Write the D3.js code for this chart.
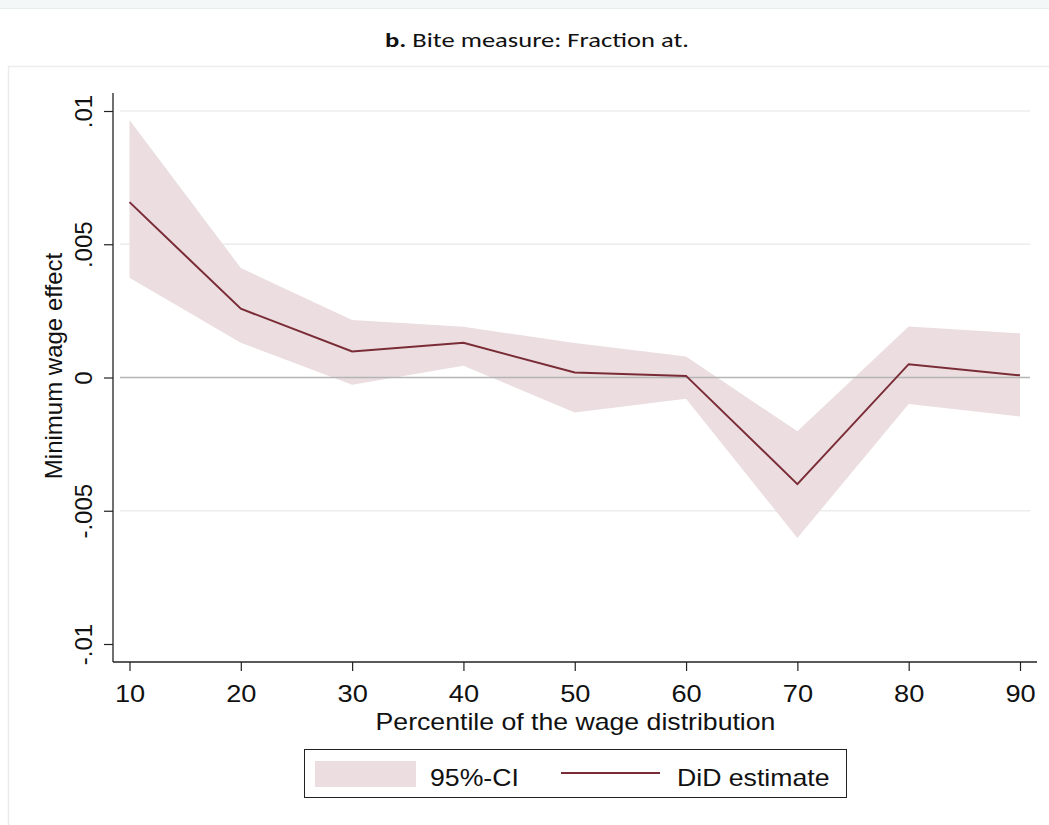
<!DOCTYPE html>
<html>
<head>
<meta charset="utf-8">
<script src="https://cdn.jsdelivr.net/npm/d3@7"></script>
<style>
  body { margin: 0; background: #ffffff; }
  svg { display: block; }
</style>
</head>
<body>
<svg id="chart" width="1049" height="825"></svg>
<script>
// Percentiles of the wage distribution and the DiD estimates with 95% bounds
const percentiles = [10, 20, 30, 40, 50, 60, 70, 80, 90];
const estimate    = [0.00658, 0.00258, 0.00098, 0.00130, 0.00019, 0.00006, -0.00400, 0.00050, 0.00008];
const ciUpper     = [0.00966, 0.00411, 0.00216, 0.00190, 0.00129, 0.00079, -0.00202, 0.00191, 0.00166];
const ciLower     = [0.00374, 0.00130, -0.00027, 0.00044, -0.00131, -0.00080, -0.00602, -0.00099, -0.00146];

const yTicks = [-0.01, -0.005, 0, 0.005, 0.01];
const yTickLabels = ["-.01", "-.005", "0", ".005", ".01"];
const gridValues = [0.01, 0.005, -0.005];
const xTickLabels = ["10", "20", "30", "40", "50", "60", "70", "80", "90"];

const titleBold = "b.";
const titleRest = " Bite measure: Fraction at.";
const yTitle = "Minimum wage effect";
const xTitle = "Percentile of the wage distribution";
const legendLabels = ["95%-CI", "DiD estimate"];

const bandColor = "#ebdde0";
const lineColor = "#7a2c36";
const statFont = "'Liberation Sans', Arial, sans-serif";
const wide = 1.11; // horizontal stretch of the graph's lettering

// widen a horizontal text element by a factor
function stretch(sel, k) {
  sel.each(function () {
    const w = this.getComputedTextLength();
    d3.select(this).attr("textLength", w * k).attr("lengthAdjust", "spacingAndGlyphs");
  });
}

const svg = d3.select("#chart");

// page furniture: top strip and the panel holding the graph
svg.append("rect").attr("x", 0).attr("y", 0).attr("width", 1049).attr("height", 8)
  .attr("fill", "#f4f7f7");
svg.append("line").attr("x1", 0).attr("x2", 1049).attr("y1", 8.5).attr("y2", 8.5)
  .attr("stroke", "#e8eeee");
svg.append("rect").attr("x", 8.5).attr("y", 66.5).attr("width", 1060).attr("height", 800)
  .attr("fill", "#ffffff").attr("stroke", "#ececec").attr("stroke-width", 1.5);

// heading
const heading = svg.append("text")
  .attr("x", 537).attr("y", 47)
  .attr("text-anchor", "middle")
  .style("font-family", "Carlito, Lato, 'Open Sans', sans-serif")
  .style("font-size", "20px")
  .attr("fill", "#111");
heading.append("tspan").style("font-weight", "bold").text(titleBold);
heading.append("tspan").text(titleRest);
heading.attr("textLength", 304).attr("lengthAdjust", "spacingAndGlyphs");

// scales
const x = d3.scaleLinear().domain([10, 90]).range([129.5, 1020]);
const y = d3.scaleLinear().domain([-0.01, 0.01]).range([644, 111]);

const plot = svg.append("g");

// grid lines
plot.selectAll("line.grid").data(gridValues).enter().append("line")
  .attr("class", "grid")
  .attr("x1", 120).attr("x2", 1030)
  .attr("y1", d => y(d)).attr("y2", d => y(d))
  .attr("stroke", "#ececec").attr("stroke-width", 1.5);

// confidence band
const area = d3.area()
  .x((d, i) => x(percentiles[i]))
  .y0((d, i) => y(ciLower[i]))
  .y1((d, i) => y(ciUpper[i]));
plot.append("path").datum(percentiles)
  .attr("d", area)
  .attr("fill", bandColor);

// zero reference line
plot.append("line")
  .attr("x1", 120).attr("x2", 1030)
  .attr("y1", y(0)).attr("y2", y(0))
  .attr("stroke", "#b5b5b5").attr("stroke-width", 1.6);

// point estimates
const line = d3.line()
  .x((d, i) => x(percentiles[i]))
  .y(d => y(d));
plot.append("path").datum(estimate)
  .attr("d", line)
  .attr("fill", "none")
  .attr("stroke", lineColor)
  .attr("stroke-width", 2);

// y axis
const yAxis = svg.append("g")
  .attr("transform", "translate(113,0)")
  .call(d3.axisLeft(y).tickValues(yTicks)
    .tickFormat((d, i) => yTickLabels[i]).tickSize(9).tickPadding(0));
yAxis.select(".domain").remove();
yAxis.selectAll(".tick line").attr("stroke", "#222").attr("stroke-width", 1.2);
yAxis.selectAll(".tick text")
  .attr("x", 0).attr("y", -21).attr("dy", 0)
  .attr("transform", "rotate(-90)")
  .attr("text-anchor", "middle")
  .style("font-family", statFont)
  .style("font-size", "24px")
  .attr("fill", "#111");
svg.append("line").attr("x1", 113).attr("x2", 113).attr("y1", 93).attr("y2", 662)
  .attr("stroke", "#222").attr("stroke-width", 1.3);

// x axis
const xAxis = svg.append("g")
  .attr("transform", "translate(0,662)")
  .call(d3.axisBottom(x).tickValues(percentiles)
    .tickFormat((d, i) => xTickLabels[i]).tickSize(9).tickPadding(0));
xAxis.select(".domain").remove();
xAxis.selectAll(".tick line").attr("stroke", "#222").attr("stroke-width", 1.2);
xAxis.selectAll(".tick text")
  .attr("y", 39.5).attr("dy", 0)
  .style("font-family", statFont)
  .style("font-size", "24.5px")
  .attr("fill", "#111")
  .call(stretch, wide);
svg.append("line").attr("x1", 113).attr("x2", 1037).attr("y1", 662).attr("y2", 662)
  .attr("stroke", "#222").attr("stroke-width", 1.3);

// axis titles
svg.append("text")
  .attr("transform", "translate(62,366) rotate(-90)")
  .attr("text-anchor", "middle")
  .style("font-family", statFont)
  .style("font-size", "24px")
  .attr("fill", "#111")
  .text(yTitle);
svg.append("text")
  .attr("x", 575.5).attr("y", 729.5)
  .attr("text-anchor", "middle")
  .style("font-family", statFont)
  .style("font-size", "24px")
  .attr("fill", "#111")
  .text(xTitle)
  .call(stretch, wide);

// legend
const legend = svg.append("g");
legend.append("rect").attr("x", 304.5).attr("y", 749.5).attr("width", 542).attr("height", 48)
  .attr("fill", "#ffffff").attr("stroke", "#222").attr("stroke-width", 1);
legend.append("rect").attr("x", 315).attr("y", 761).attr("width", 101).attr("height", 26)
  .attr("fill", bandColor);
legend.append("text").attr("x", 430).attr("y", 785.5)
  .style("font-family", statFont).style("font-size", "24px").attr("fill", "#111")
  .text(legendLabels[0])
  .call(stretch, wide);
legend.append("line").attr("x1", 561).attr("x2", 660).attr("y1", 773).attr("y2", 773)
  .attr("stroke", lineColor).attr("stroke-width", 2);
legend.append("text").attr("x", 677).attr("y", 785.5)
  .style("font-family", statFont).style("font-size", "24px").attr("fill", "#111")
  .text(legendLabels[1])
  .call(stretch, wide);
</script>
</body>
</html>
